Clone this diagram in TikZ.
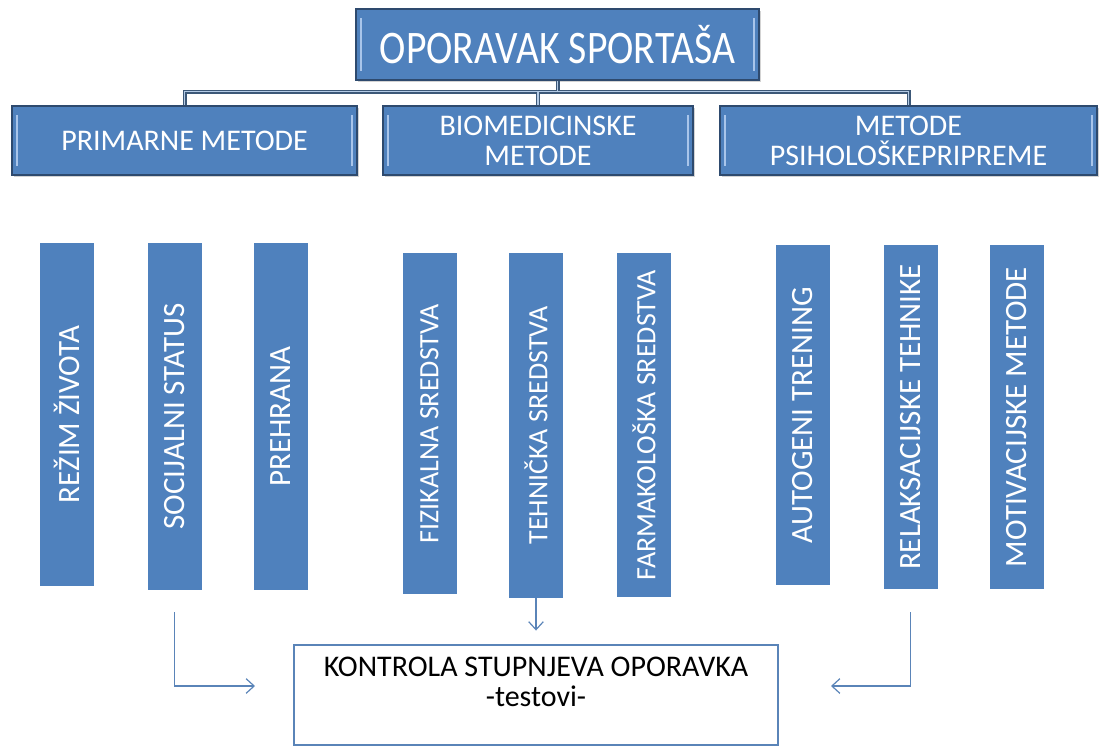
\documentclass[tikz,border=0pt]{standalone}
\usepackage{fontspec}
\setmainfont{Carlito}
\newfontfamily\titlefont{Carlito}[FakeStretch=0.85]
\usetikzlibrary{positioning, shadows, arrows.meta}

\newlength\px
\setlength\px{0.75pt}
\definecolor{boxblue}{HTML}{4F81BD}
\definecolor{boxedge}{HTML}{2E4A6E}
\definecolor{bevelc}{HTML}{A9C5EA}
\definecolor{busdarkc}{HTML}{3C5878}
\definecolor{buslightc}{HTML}{B4CBE6}
\definecolor{flowc}{HTML}{5A84B8}

\begin{document}
\begin{tikzpicture}[x=\px, y=-\px,
        headbox/.style={rectangle, fill=boxblue, draw=boxedge, line width=1.2pt, text=white, align=center, inner sep=0pt,
            drop shadow={shadow xshift=1.5pt, shadow yshift=-1.5pt, opacity=0.35},
            path picture={\draw[draw=bevelc, line width=1.5pt]
                ([xshift=5\px,yshift=-9\px]path picture bounding box.north west) -- ([xshift=5\px,yshift=9\px]path picture bounding box.south west)
                ([xshift=-5\px,yshift=-9\px]path picture bounding box.north east) -- ([xshift=-5\px,yshift=9\px]path picture bounding box.south east);}},
        bar/.style={rectangle, fill=boxblue, text=white, rotate=90, minimum height=54\px, inner sep=0pt, font=\fontsize{23.25}{24}\selectfont},
        smallbar/.style={bar, font=\fontsize{21}{22}\selectfont},
        resultbox/.style={rectangle, draw=flowc, line width=2.2pt, fill=white, minimum width=484\px, minimum height=100\px},
        busdark/.style={draw=busdarkc, line width=3pt},
        buslight/.style={draw=buslightc, line width=1pt},
        flow/.style={draw=flowc, line width=0.9pt, -{Straight Barb[length=6pt, width=11pt]}}]
        \useasboundingbox (0,0) rectangle (1099,747);

        % top and method boxes
        \node[headbox, minimum width=403\px, minimum height=71\px, font=\titlefont\fontsize{35}{35}\selectfont] (top) at (557.5,44.5) {OPORAVAK SPORTAŠA};
        \node[headbox, minimum width=345\px, minimum height=69\px, font=\fontsize{22.5}{22.5}\selectfont] (primarne) at (184.5,140.5) {PRIMARNE METODE};
        \node[headbox, minimum width=310\px, minimum height=69\px, font=\fontsize{22.5}{22.5}\selectfont] (bio) at (538,140.5) {BIOMEDICINSKE\\METODE};
        \node[headbox, minimum width=377\px, minimum height=69\px, font=\fontsize{22.5}{22.5}\selectfont] (psih) at (908.5,140.5) {METODE\\PSIHOLOŠKEPRIPREME};

        \foreach \s in {busdark, buslight}
            \draw[\s] (top.south) -- ++(0,11) -| (primarne.north)
                      (top.south) -- ++(0,11) -| (bio.north)
                      (top.south) -- ++(0,11) -| (psih.north);

        % bars (rotated, so .west is the bottom end)
        \node[bar, minimum width=343\px] (rezim) at (66.5,414.5) {REŽIM ŽIVOTA};
        \node[bar, minimum width=347\px] (socijalni) at (174.5,416.5) {SOCIJALNI STATUS};
        \node[bar, minimum width=347\px] (prehrana) at (280.5,416.5) {PREHRANA};
        \node[smallbar, minimum width=341\px] (fizikalna) at (429.5,423.5) {FIZIKALNA SREDSTVA};
        \node[smallbar, minimum width=345\px] (tehnicka) at (536,425.5) {TEHNIČKA SREDSTVA};
        \node[smallbar, minimum width=344\px] (farmakoloska) at (644,425) {FARMAKOLOŠKA SREDSTVA};
        \node[bar, minimum width=340\px] (autogeni) at (803,415) {AUTOGENI TRENING};
        \node[bar, minimum width=344\px] (relaksacijske) at (910.5,417) {RELAKSACIJSKE TEHNIKE};
        \node[bar, minimum width=344\px] (motivacijske) at (1017,417) {MOTIVACIJSKE METODE};

        % control box
        \node[resultbox] (kontrola) at (536,695) {};
        \node[below=9.75pt of kontrola.north, align=center, inner sep=0pt, font=\fontsize{22.5}{22.5}\selectfont] (kontrolatext) {KONTROLA STUPNJEVA OPORAVKA\\-testovi-};

        \coordinate (lend) at (255,686);
        \coordinate (rend) at (831,686);
        \draw[flow, shorten <=16.5pt] (socijalni.west) |- (lend);
        \draw[flow, shorten >=9.75pt] (tehnicka.west) -- (kontrola.north);
        \draw[flow, shorten <=17.25pt] (relaksacijske.west) |- (rend);
    \end{tikzpicture}
\end{document}
